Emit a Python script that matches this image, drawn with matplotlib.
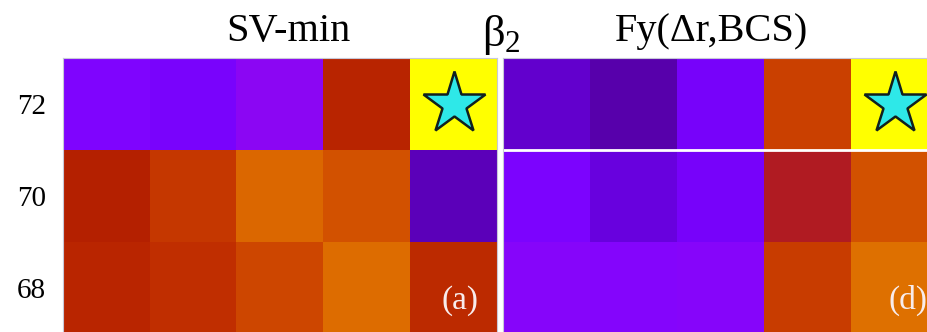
import matplotlib
matplotlib.use("Agg")
import matplotlib.pyplot as plt
import numpy as np

plt.rcParams['font.family'] = ['Liberation Serif', 'DejaVu Serif']
plt.rcParams['mathtext.fontset'] = 'custom'
plt.rcParams['mathtext.rm'] = 'Liberation Serif'
plt.rcParams['mathtext.it'] = 'Liberation Serif:italic'

# data (colormap fraction, gnuplot scale 0..1)
beta2_rows = [72, 70, 68]
sv_min = [
    [0.25, 0.23, 0.30, 0.52, 1.00],
    [0.50, 0.60, 0.74, 0.68, 0.13],
    [0.53, 0.57, 0.65, 0.75, 0.55],
]
fy_dr_bcs = [
    [0.15, 0.12, 0.22, 0.63, 1.00],
    [0.24, 0.17, 0.22, 0.48, 0.68],
    [0.28, 0.27, 0.28, 0.62, 0.76],
]
titles = ["SV-min", "Fy(\u0394r,BCS)"]
panel_labels = ["(a)", "(d)"]
label_x = [0.915, 0.93]

W, H = 928, 332
fig = plt.figure(figsize=(W / 100, H / 100), dpi=100)

def axrect(x0, x1, ytop, ybot):
    return [x0 / W, (H - ybot) / H, (x1 - x0) / W, (ybot - ytop) / H]

ax1 = fig.add_axes(axrect(63, 497, 58, 334))
ax2 = fig.add_axes(axrect(503, 938, 58, 334))

for ax, data, lab, lx in zip([ax1, ax2], [sv_min, fy_dr_bcs], panel_labels, label_x):
    arr = np.array(data)
    ax.imshow(arr, cmap='gnuplot', vmin=0, vmax=1, aspect='auto',
              interpolation='nearest')
    r, c = np.unravel_index(np.argmax(arr), arr.shape)
    ax.plot(c, r, marker='*', ms=47, mfc='#2ee8e8', mec='#102020', mew=1.8)
    ax.set_xticks([])
    ax.text(lx, 0.12, lab, transform=ax.transAxes, color='#f8ecec',
            fontsize=24, ha='center', va='center')
    for s in ax.spines.values():
        s.set_color('#c8c8d8')
        s.set_linewidth(0.8)
    ax.set_xlim(-0.5, 4.5)
    ax.set_ylim(2.5, -0.5)

ax1.set_yticks(range(len(beta2_rows)))
ax1.set_yticklabels([str(v) for v in beta2_rows], fontsize=21)
ax1.tick_params(axis='y', length=0, pad=12)
ax2.set_yticks([])
ax2.axhline(0.5, color='white', lw=2)

fig.text(288 / W, 1 - 31 / H, titles[0], fontsize=29, ha='center', va='center')
fig.text(712 / W, 1 - 31 / H, titles[1], fontsize=29, ha='center', va='center')
fig.text(501 / W, 1 - 35 / H, '$\\mathrm{\u03b2}_{\\mathrm{2}}$', fontsize=32,
         ha='center', va='center')

fig.savefig('out.png', dpi=100)
